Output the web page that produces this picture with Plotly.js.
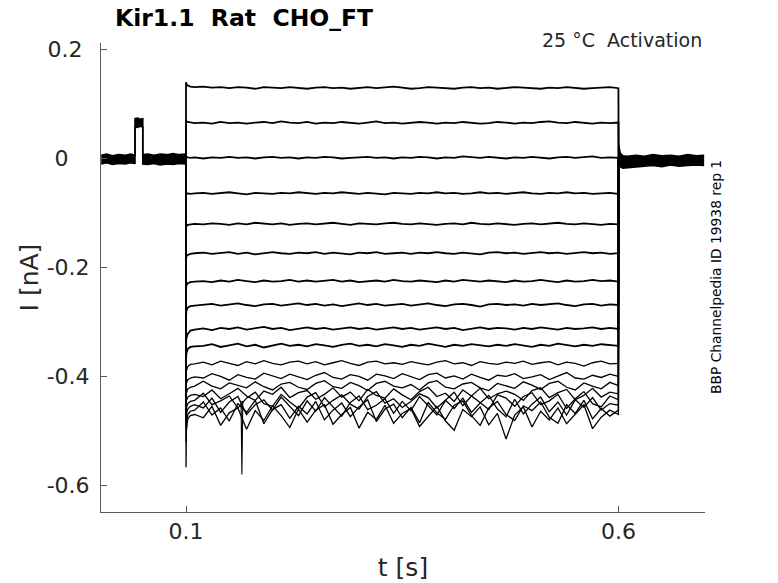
<!DOCTYPE html>
<html>
<head>
<meta charset="utf-8">
<script src="https://cdn.plot.ly/plotly-3.0.1.min.js"></script>
<style>
  html, body { margin: 0; padding: 0; background: #ffffff; }
  #chart { width: 778px; height: 583px; }
</style>
</head>
<body>
<div id="chart"></div>
<script>
// ---------- tick labels ----------
const xTickVals = [0.1, 0.6];
const xTickText = ['0.1', '0.6'];
const yTickVals = [-0.6, -0.4, -0.2, 0, 0.2];
const yTickText = ['-0.6', '-0.4', '-0.2', '0\u2007\u00a0', '0.2\u00a0'];

// ---------- holding period (all sweeps overlap into a band) ----------
const preT  = [0.002, 0.008, 0.015, 0.022, 0.030, 0.036, 0.041, 0.041, 0.044, 0.047, 0.050, 0.050, 0.056, 0.063, 0.070, 0.078, 0.085, 0.092, 0.0999];
const preHi = [0.006, 0.008, 0.005, 0.007, 0.006, 0.008, 0.006, 0.073, 0.074, 0.072, 0.073, 0.007, 0.008, 0.006, 0.008, 0.007, 0.009, 0.007, 0.008];
const preLo = [-0.010, -0.008, -0.011, -0.009, -0.010, -0.008, -0.009, 0.058, 0.057, 0.059, 0.058, -0.010, -0.011, -0.009, -0.012, -0.010, -0.011, -0.009, -0.010];

// ---------- after the step (band) ----------
const postT  = [0.6001, 0.602, 0.605, 0.61, 0.62, 0.63, 0.64, 0.65, 0.66, 0.67, 0.68, 0.69, 0.699];
const postHi = [0.026, 0.010, 0.005, 0.004, 0.006, 0.004, 0.007, 0.005, 0.006, 0.004, 0.007, 0.005, 0.006];
const postLo = [-0.006, -0.015, -0.018, -0.017, -0.015, -0.014, -0.013, -0.015, -0.012, -0.014, -0.013, -0.012, -0.013];

// ---------- step sweeps: time samples [s] ----------
const T = [
  0.0999, 0.1, 0.1004, 0.102, 0.105, 0.11,
  0.12, 0.13, 0.14, 0.15, 0.16, 0.17, 0.18, 0.19, 0.20, 0.21, 0.22, 0.23,
  0.24, 0.25, 0.26, 0.27, 0.28, 0.29, 0.30, 0.31, 0.32, 0.33, 0.34, 0.35,
  0.36, 0.37, 0.38, 0.39, 0.40, 0.41, 0.42, 0.43, 0.44, 0.45, 0.46, 0.47,
  0.48, 0.49, 0.50, 0.51, 0.52, 0.53, 0.54, 0.55, 0.56, 0.57, 0.58, 0.59,
  0.5999, 0.6001
];

// ---------- step sweeps: current [nA] ----------
const S1 = [0, 0.140, 0.137, 0.134, 0.132, 0.131,
  0.132, 0.130, 0.131, 0.129, 0.131, 0.130, 0.128, 0.131, 0.130, 0.129, 0.131, 0.130,
  0.128, 0.130, 0.131, 0.129, 0.130, 0.128, 0.130, 0.131, 0.129, 0.130, 0.132, 0.130,
  0.128, 0.129, 0.131, 0.130, 0.129, 0.128, 0.130, 0.131, 0.129, 0.130, 0.128, 0.129,
  0.131, 0.130, 0.129, 0.128, 0.130, 0.129, 0.131, 0.130, 0.128, 0.129, 0.130, 0.131,
  0.129, 0];
const S2 = [0, 0.070, 0.068, 0.067, 0.066, 0.065,
  0.066, 0.064, 0.067, 0.065, 0.066, 0.064, 0.066, 0.067, 0.065, 0.068, 0.066, 0.065,
  0.067, 0.064, 0.066, 0.065, 0.067, 0.066, 0.064, 0.066, 0.068, 0.065, 0.066, 0.064,
  0.065, 0.067, 0.066, 0.064, 0.066, 0.065, 0.067, 0.066, 0.064, 0.065, 0.067, 0.066,
  0.064, 0.066, 0.065, 0.067, 0.068, 0.066, 0.065, 0.067, 0.066, 0.064, 0.066, 0.065,
  0.066, 0];
const S3 = [0, 0.004, 0.003, 0.002, 0.001, 0.002,
  0.000, 0.002, 0.001, 0.003, 0.001, 0.002, 0.000, 0.002, 0.003, 0.001, 0.002, 0.000,
  0.002, 0.001, 0.003, 0.002, 0.000, 0.001, 0.002, 0.003, 0.001, 0.002, 0.000, 0.002,
  0.001, 0.003, 0.002, 0.000, 0.002, 0.001, 0.004, 0.002, 0.001, 0.003, 0.002, 0.000,
  0.002, 0.001, 0.003, 0.002, 0.000, 0.002, 0.003, 0.001, 0.002, 0.004, 0.001, 0.002,
  0.001, 0];
const S4 = [0, -0.066, -0.065, -0.064, -0.065, -0.064,
  -0.063, -0.065, -0.064, -0.062, -0.064, -0.066, -0.063, -0.064, -0.065, -0.063, -0.064, -0.062,
  -0.064, -0.065, -0.063, -0.064, -0.062, -0.064, -0.065, -0.063, -0.064, -0.066, -0.063, -0.064,
  -0.065, -0.063, -0.064, -0.062, -0.064, -0.063, -0.065, -0.064, -0.062, -0.064, -0.063, -0.065,
  -0.064, -0.062, -0.064, -0.065, -0.063, -0.064, -0.062, -0.064, -0.063, -0.065, -0.064, -0.063,
  -0.065, 0];
const S5 = [0, -0.127, -0.124, -0.122, -0.121, -0.120,
  -0.121, -0.119, -0.120, -0.122, -0.119, -0.121, -0.118, -0.120, -0.121, -0.119, -0.122, -0.120,
  -0.119, -0.121, -0.120, -0.118, -0.120, -0.122, -0.119, -0.120, -0.121, -0.119, -0.118, -0.120,
  -0.121, -0.119, -0.120, -0.122, -0.120, -0.119, -0.121, -0.118, -0.120, -0.121, -0.119, -0.120,
  -0.122, -0.120, -0.119, -0.121, -0.120, -0.118, -0.120, -0.121, -0.119, -0.120, -0.122, -0.120,
  -0.121, 0];
const S6 = [0, -0.185, -0.180, -0.177, -0.175, -0.174,
  -0.173, -0.175, -0.174, -0.172, -0.175, -0.173, -0.176, -0.174, -0.172, -0.174, -0.175, -0.173,
  -0.174, -0.172, -0.175, -0.173, -0.174, -0.176, -0.173, -0.174, -0.172, -0.175, -0.174, -0.173,
  -0.175, -0.173, -0.174, -0.172, -0.174, -0.175, -0.173, -0.174, -0.176, -0.173, -0.172, -0.174,
  -0.173, -0.175, -0.174, -0.172, -0.174, -0.173, -0.175, -0.174, -0.172, -0.174, -0.173, -0.175,
  -0.174, 0];
const S7 = [0, -0.240, -0.233, -0.229, -0.227, -0.226,
  -0.225, -0.227, -0.224, -0.226, -0.223, -0.225, -0.227, -0.224, -0.226, -0.225, -0.223, -0.226,
  -0.224, -0.226, -0.225, -0.223, -0.226, -0.224, -0.227, -0.225, -0.224, -0.226, -0.223, -0.225,
  -0.226, -0.224, -0.225, -0.227, -0.224, -0.226, -0.223, -0.225, -0.226, -0.224, -0.225, -0.227,
  -0.224, -0.226, -0.225, -0.223, -0.225, -0.227, -0.224, -0.226, -0.225, -0.223, -0.225, -0.224,
  -0.226, 0];
const S8 = [0, -0.290, -0.280, -0.274, -0.271, -0.270,
  -0.269, -0.267, -0.270, -0.268, -0.266, -0.269, -0.271, -0.268, -0.267, -0.270, -0.268, -0.266,
  -0.269, -0.267, -0.270, -0.268, -0.271, -0.268, -0.266, -0.269, -0.267, -0.270, -0.268, -0.267,
  -0.270, -0.268, -0.266, -0.269, -0.271, -0.268, -0.267, -0.269, -0.272, -0.268, -0.267, -0.269,
  -0.268, -0.270, -0.267, -0.269, -0.268, -0.266, -0.269, -0.271, -0.268, -0.267, -0.270, -0.268,
  -0.269, 0];
const S9 = [0, -0.340, -0.330, -0.322, -0.316, -0.314,
  -0.312, -0.315, -0.311, -0.313, -0.310, -0.314, -0.312, -0.309, -0.313, -0.311, -0.315, -0.312,
  -0.310, -0.313, -0.311, -0.314, -0.312, -0.310, -0.313, -0.311, -0.314, -0.312, -0.310, -0.313,
  -0.311, -0.314, -0.312, -0.310, -0.313, -0.311, -0.315, -0.312, -0.310, -0.313, -0.311, -0.312,
  -0.314, -0.311, -0.313, -0.310, -0.312, -0.314, -0.311, -0.313, -0.312, -0.310, -0.313, -0.311,
  -0.313, 0];
const S10 = [0, -0.370, -0.358, -0.350, -0.346, -0.345,
  -0.344, -0.341, -0.346, -0.343, -0.340, -0.345, -0.342, -0.347, -0.343, -0.340, -0.344, -0.342,
  -0.345, -0.341, -0.343, -0.346, -0.342, -0.340, -0.344, -0.342, -0.345, -0.341, -0.343, -0.346,
  -0.342, -0.344, -0.340, -0.343, -0.346, -0.342, -0.344, -0.341, -0.343, -0.345, -0.342, -0.344,
  -0.341, -0.343, -0.346, -0.342, -0.344, -0.340, -0.343, -0.345, -0.342, -0.344, -0.341, -0.343,
  -0.344, 0];
const S11 = [0, -0.400, -0.390, -0.382, -0.378, -0.377,
  -0.374, -0.379, -0.372, -0.376, -0.380, -0.373, -0.377, -0.371, -0.376, -0.379, -0.374, -0.372,
  -0.377, -0.373, -0.379, -0.375, -0.371, -0.376, -0.380, -0.374, -0.372, -0.377, -0.375, -0.378,
  -0.373, -0.376, -0.379, -0.374, -0.371, -0.377, -0.375, -0.380, -0.373, -0.376, -0.378, -0.374,
  -0.376, -0.372, -0.378, -0.375, -0.373, -0.379, -0.374, -0.376, -0.381, -0.375, -0.372, -0.377,
  -0.376, 0];
const S12 = [0, -0.420, -0.412, -0.406, -0.403, -0.401,
  -0.403, -0.395, -0.400, -0.407, -0.397, -0.402, -0.405, -0.394, -0.399, -0.404, -0.396, -0.401,
  -0.406, -0.398, -0.393, -0.402, -0.405, -0.397, -0.400, -0.407, -0.396, -0.399, -0.404, -0.395,
  -0.401, -0.406, -0.397, -0.394, -0.403, -0.399, -0.405, -0.396, -0.402, -0.407, -0.398, -0.400,
  -0.395, -0.404, -0.401, -0.397, -0.406, -0.399, -0.393, -0.403, -0.405, -0.398, -0.402, -0.396,
  -0.400, 0];
const S13 = [0, -0.440, -0.430, -0.423, -0.420, -0.418,
  -0.409, -0.418, -0.423, -0.412, -0.416, -0.421, -0.410, -0.419, -0.425, -0.414, -0.411, -0.420,
  -0.424, -0.413, -0.408, -0.419, -0.422, -0.411, -0.417, -0.426, -0.413, -0.409, -0.418, -0.421,
  -0.415, -0.425, -0.412, -0.408, -0.420, -0.423, -0.414, -0.411, -0.421, -0.426, -0.413, -0.417,
  -0.422, -0.410, -0.416, -0.424, -0.413, -0.409, -0.420, -0.425, -0.412, -0.418, -0.423, -0.411,
  -0.417, 0];
const S14 = [0, -0.450, -0.445, -0.438, -0.435, -0.433,
  -0.437, -0.425, -0.441, -0.432, -0.422, -0.436, -0.444, -0.427, -0.433, -0.420, -0.439, -0.430,
  -0.426, -0.442, -0.433, -0.421, -0.438, -0.429, -0.445, -0.424, -0.435, -0.440, -0.423, -0.434,
  -0.443, -0.428, -0.420, -0.437, -0.431, -0.446, -0.425, -0.436, -0.422, -0.441, -0.432, -0.427,
  -0.433, -0.444, -0.426, -0.421, -0.439, -0.430, -0.424, -0.443, -0.435, -0.422, -0.438, -0.429,
  -0.432, 0];
const S15 = [0, -0.470, -0.458, -0.450, -0.446, -0.444,
  -0.431, -0.452, -0.445, -0.436, -0.458, -0.440, -0.429, -0.450, -0.455, -0.433, -0.447, -0.459,
  -0.438, -0.430, -0.456, -0.444, -0.434, -0.451, -0.460, -0.437, -0.428, -0.449, -0.441, -0.457,
  -0.446, -0.432, -0.439, -0.458, -0.443, -0.429, -0.454, -0.436, -0.448, -0.461, -0.434, -0.440,
  -0.455, -0.437, -0.430, -0.452, -0.445, -0.433, -0.459, -0.441, -0.428, -0.450, -0.456, -0.436,
  -0.443, 0];
const S16 = [0, -0.490, -0.470, -0.460, -0.455, -0.452,
  -0.458, -0.440, -0.466, -0.447, -0.437, -0.470, -0.452, -0.443, -0.462, -0.438, -0.455, -0.472,
  -0.445, -0.464, -0.439, -0.457, -0.473, -0.448, -0.436, -0.461, -0.453, -0.441, -0.468, -0.446,
  -0.463, -0.437, -0.454, -0.471, -0.444, -0.459, -0.440, -0.466, -0.449, -0.435, -0.460, -0.474,
  -0.442, -0.469, -0.451, -0.438, -0.465, -0.447, -0.471, -0.443, -0.457, -0.439, -0.462, -0.450,
  -0.453, 0];
const S17 = [0, -0.520, -0.485, -0.470, -0.464, -0.462,
  -0.447, -0.471, -0.458, -0.482, -0.450, -0.466, -0.444, -0.487, -0.461, -0.452, -0.477, -0.455,
  -0.469, -0.446, -0.480, -0.462, -0.449, -0.474, -0.456, -0.443, -0.483, -0.460, -0.451, -0.476,
  -0.457, -0.485, -0.448, -0.467, -0.479, -0.453, -0.445, -0.472, -0.490, -0.458, -0.446, -0.470,
  -0.481, -0.454, -0.463, -0.447, -0.475, -0.486, -0.452, -0.468, -0.444, -0.478, -0.459, -0.473,
  -0.462, 0];
const S18 = [0, -0.567, -0.500, -0.478, -0.472, -0.470,
  -0.476, -0.455, -0.490, -0.467, -0.458, -0.497, -0.463, -0.481, -0.454, -0.472, -0.494, -0.460,
  -0.484, -0.462, -0.452, -0.488, -0.470, -0.457, -0.495, -0.466, -0.479, -0.453, -0.486, -0.468,
  -0.459, -0.492, -0.473, -0.455, -0.482, -0.499, -0.461, -0.474, -0.456, -0.489, -0.468, -0.515,
  -0.471, -0.456, -0.493, -0.464, -0.480, -0.458, -0.487, -0.469, -0.452, -0.496, -0.475, -0.462,
  -0.470, 0];

// brief artefact in one sweep at t ~ 0.165 s
const spikeT = [0.1636, 0.1646, 0.1656];
const spikeV = [-0.445, -0.580, -0.445];

const sweeps = [S1, S2, S3, S4, S5, S6, S7, S8, S9, S10, S11, S12, S13, S14, S15, S16, S17, S18];

// ---------- traces ----------
const traces = [];
function band(x, lo, hi) {
  traces.push({x: x, y: lo, type: 'scatter', mode: 'lines',
    line: {color: '#000', width: 1.6}, hoverinfo: 'skip', showlegend: false});
  traces.push({x: x, y: hi, type: 'scatter', mode: 'lines', fill: 'tonexty',
    fillcolor: '#000', line: {color: '#000', width: 1.6}, hoverinfo: 'skip', showlegend: false});
}
band(preT, preLo, preHi);
band(postT, postLo, postHi);

sweeps.forEach(function (s, i) {
  traces.push({x: T, y: s, type: 'scatter', mode: 'lines',
    line: {color: '#000', width: i < 10 ? 1.8 : 1.3},
    hoverinfo: 'skip', showlegend: false});
});
traces.push({x: spikeT, y: spikeV, type: 'scatter', mode: 'lines',
  line: {color: '#000', width: 1.1}, hoverinfo: 'skip', showlegend: false});

const FONT = 'DejaVu Sans, Verdana, sans-serif';
const axisCol = '#595959';
const textCol = '#262626';

const layout = {
  width: 778, height: 583,
  margin: {l: 101, r: 73, t: 43, b: 71, pad: 0},
  paper_bgcolor: '#fff', plot_bgcolor: '#fff',
  font: {family: FONT, color: textCol},
  title: {
    text: '<b>Kir1.1\u00a0 Rat\u00a0 CHO_FT</b>',
    font: {family: FONT, size: 23.5, color: '#000'},
    xref: 'container', yref: 'container',
    x: 115 / 778, xanchor: 'left',
    y: 1 - 18 / 583, yanchor: 'middle'
  },
  xaxis: {
    range: [0.0017, 0.7],
    tickmode: 'array', tickvals: xTickVals, ticktext: xTickText,
    ticks: 'inside', ticklen: 6, tickwidth: 1, tickcolor: axisCol,
    showline: true, linecolor: axisCol, linewidth: 1, mirror: false,
    showgrid: false, zeroline: false,
    tickfont: {family: FONT, size: 22, color: textCol},
    title: {text: 't [s]', font: {family: FONT, size: 25, color: textCol}, standoff: 15}
  },
  yaxis: {
    range: [-0.649, 0.212],
    tickmode: 'array', tickvals: yTickVals, ticktext: yTickText,
    ticks: 'inside', ticklen: 6, tickwidth: 1, tickcolor: axisCol,
    showline: true, linecolor: axisCol, linewidth: 1, mirror: false,
    showgrid: false, zeroline: false,
    ticklabelstandoff: 6,
    tickfont: {family: FONT, size: 22, color: textCol},
    title: {text: 'I [nA]', font: {family: FONT, size: 25, color: textCol}, standoff: 0}
  },
  annotations: [
    {
      text: '25 °C\u00a0 Activation',
      xref: 'paper', yref: 'paper',
      x: 1, xanchor: 'right', xshift: -1,
      y: 1, yanchor: 'middle', yshift: 3,
      showarrow: false,
      font: {family: FONT, size: 19, color: textCol}
    },
    {
      text: 'BBP Channelpedia ID 19938 rep 1',
      xref: 'paper', yref: 'paper',
      x: (716 - 101) / 604, xanchor: 'center',
      y: (512 - 277) / 469, yanchor: 'middle',
      textangle: -90, showarrow: false,
      font: {family: FONT, size: 13.8, color: '#000'}
    }
  ]
};

Plotly.newPlot('chart', traces, layout, {displayModeBar: false, staticPlot: true});
</script>
</body>
</html>
